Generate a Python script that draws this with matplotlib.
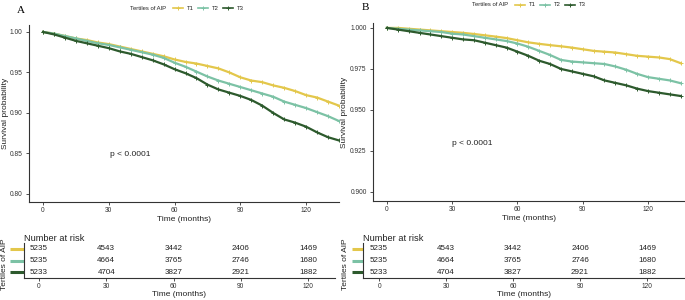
import numpy as np
import matplotlib
matplotlib.use("Agg")
import matplotlib.pyplot as plt
from matplotlib.lines import Line2D

plt.rcParams['font.family'] = ['Liberation Sans', 'DejaVu Sans']

# ---- data ----
months = [0, 5, 10, 15, 20, 25, 30, 35, 40, 45, 50, 55, 60, 65, 70,
          75, 80, 85, 90, 95, 100, 105, 110, 115, 120, 125, 130, 135]

a_t1 = [1.000, 0.998, 0.995, 0.992, 0.990, 0.987, 0.985, 0.982, 0.979, 0.976,
        0.973, 0.970, 0.966, 0.963, 0.961, 0.958, 0.955, 0.950, 0.944, 0.940,
        0.938, 0.934, 0.931, 0.927, 0.922, 0.919, 0.914, 0.909]
a_t2 = [1.000, 0.998, 0.995, 0.992, 0.989, 0.986, 0.984, 0.981, 0.978, 0.975,
        0.972, 0.968, 0.962, 0.957, 0.951, 0.945, 0.940, 0.936, 0.932, 0.928,
        0.924, 0.920, 0.914, 0.910, 0.906, 0.901, 0.896, 0.890]
a_t3 = [1.000, 0.997, 0.993, 0.989, 0.986, 0.983, 0.980, 0.976, 0.973, 0.969,
        0.965, 0.960, 0.954, 0.949, 0.943, 0.935, 0.929, 0.925, 0.921, 0.916,
        0.909, 0.900, 0.892, 0.888, 0.883, 0.876, 0.870, 0.866]

b_t1 = [1.000, 1.000, 0.9995, 0.999, 0.9985, 0.998, 0.9975, 0.997, 0.9963, 0.9955,
        0.9947, 0.9938, 0.9925, 0.9912, 0.9903, 0.9895, 0.9888, 0.988, 0.987, 0.986,
        0.9855, 0.985, 0.984, 0.983, 0.9825, 0.982, 0.981, 0.9785]
b_t2 = [1.000, 0.9995, 0.999, 0.9985, 0.998, 0.9975, 0.9965, 0.996, 0.995, 0.994,
        0.993, 0.992, 0.9905, 0.9885, 0.986, 0.9835, 0.9805, 0.9795, 0.979, 0.9785,
        0.978, 0.9765, 0.9745, 0.972, 0.970, 0.969, 0.968, 0.9663]
b_t3 = [1.000, 0.999, 0.998, 0.997, 0.996, 0.995, 0.994, 0.993, 0.9925, 0.991,
        0.9895, 0.988, 0.9855, 0.983, 0.980, 0.978, 0.975, 0.9735, 0.972, 0.9705,
        0.968, 0.9665, 0.965, 0.963, 0.9615, 0.9605, 0.9595, 0.9585]

groups = ['T1', 'T2', 'T3']
colors = ['#E3C74B', '#7CC2A5', '#2D5A2D']

risk_times = [0, 30, 60, 90, 120]
risk_t1 = [5235, 4543, 3442, 2406, 1469]
risk_t2 = [5235, 4664, 3765, 2746, 1680]
risk_t3 = [5233, 4704, 3827, 2921, 1882]

W, H = 685, 300
AXC = '#333333'


def box(l, t, r, b):
    return [l / W, 1 - b / H, (r - l) / W, (b - t) / H]


def style_axis(ax):
    for s in ['top', 'right']:
        ax.spines[s].set_visible(False)
    for s in ['left', 'bottom']:
        ax.spines[s].set_color(AXC)
        ax.spines[s].set_linewidth(0.8)
    ax.tick_params(length=2, width=0.6, color=AXC, pad=1.5,
                   labelsize=4.8, labelcolor='#333333')
    ax.tick_params(axis='y', pad=2.5)


def km_panel(ax, curves, xlim, ylim, yticks, fmt, ptxt):
    style_axis(ax)
    for vals, c in zip(curves, colors):
        ax.plot(months, vals, color=c, lw=1.6, solid_joinstyle='miter')
        ax.plot(months, vals, ls='none', marker='+', ms=3, mew=0.7, color=c)
    ax.set_xlim(*xlim)
    ax.set_ylim(*ylim)
    ax.set_xticks(risk_times)
    ax.set_yticks(yticks)
    ax.set_yticklabels([fmt.format(v) for v in yticks])
    ax.set_xlabel('Time (months)', fontsize=6, color='#222222', labelpad=1.5)
    ax.set_ylabel('Survival probability', fontsize=6, color='#222222')
    ax.text(ptxt[0], ptxt[1], 'p < 0.0001', fontsize=6, va='center', color='#222222')


def risk_table(ax, xlim, bar_x):
    style_axis(ax)
    rows = [risk_t1, risk_t2, risk_t3]
    for i, (vals, c) in enumerate(zip(rows, colors)):
        yy = 3 - i
        for t, n in zip(risk_times, vals):
            ax.text(t, yy, str(n), ha='center', va='center', fontsize=5.8,
                    color='#222222')
        ax.plot([bar_x, 0.0], [yy, yy], color=c, lw=2.2, clip_on=False,
                transform=ax.get_yaxis_transform(), solid_capstyle='butt')
    ax.set_xlim(*xlim)
    ax.set_ylim(0.5, 3.5)
    ax.set_xticks(risk_times)
    ax.set_yticks([1, 2, 3])
    ax.set_yticklabels([])
    ax.tick_params(axis='y', length=0)
    ax.set_xlabel('Time (months)', fontsize=6, color='#222222', labelpad=1)
    ax.set_ylabel('Tertiles of AIP', fontsize=6, color='#222222')
    ax.text(0, 1, 'Number at risk', transform=ax.transAxes, fontsize=6.7,
            va='bottom', ha='left', color='#222222')


def legend(fig, x0, y):
    fig.text(x0 / W, 1 - y / H, 'Tertiles of AIP', fontsize=4.2, va='center',
             color='#222222')
    for k, (g, c) in enumerate(zip(groups, colors)):
        cx = x0 + 48 + k * 25
        fig.add_artist(Line2D([(cx - 5) / W, (cx + 5) / W], [1 - y / H] * 2,
                              color=c, lw=1.2, transform=fig.transFigure))
        fig.add_artist(Line2D([cx / W], [1 - y / H], marker='+', ms=3, mew=0.7,
                              color=c, transform=fig.transFigure))
        fig.text((cx + 9) / W, 1 - y / H, g, fontsize=4.2, va='center',
                 color='#222222')


fig = plt.figure(figsize=(6.85, 3.0), dpi=100)

ax_a = fig.add_axes(box(29, 25, 339, 202))
km_panel(ax_a, [a_t1, a_t2, a_t3], (-6.4, 135), (0.79, 1.0086),
         [0.80, 0.85, 0.90, 0.95, 1.00], '{:.2f}', (30.5, 0.849))
ax_a.yaxis.set_label_coords(-0.066, 0.5)

ax_b = fig.add_axes(box(373, 23, 685, 201))
km_panel(ax_b, [b_t1, b_t2, b_t3], (-6.4, 137), (0.8945, 1.003),
         [0.900, 0.925, 0.950, 0.975, 1.000], '{:.3f}', (30, 0.9293))
ax_b.yaxis.set_label_coords(-0.081, 0.5)

tab_a = fig.add_axes(box(24, 243, 335, 278))
risk_table(tab_a, (-6.7, 132), -0.045)
tab_a.yaxis.set_label_coords(-0.05, 0.4)

tab_b = fig.add_axes(box(363, 243, 685, 278))
risk_table(tab_b, (-7.2, 137), -0.034)
tab_b.yaxis.set_label_coords(-0.043, 0.4)

legend(fig, 130, 8)
legend(fig, 472, 5)

fig.text(17 / W, 1 - 10.5 / H, 'A', fontsize=8, family='Liberation Serif', va='center')
fig.text(362 / W, 1 - 7 / H, 'B', fontsize=8, family='Liberation Serif', va='center')

fig.savefig('out.png', dpi=100)
